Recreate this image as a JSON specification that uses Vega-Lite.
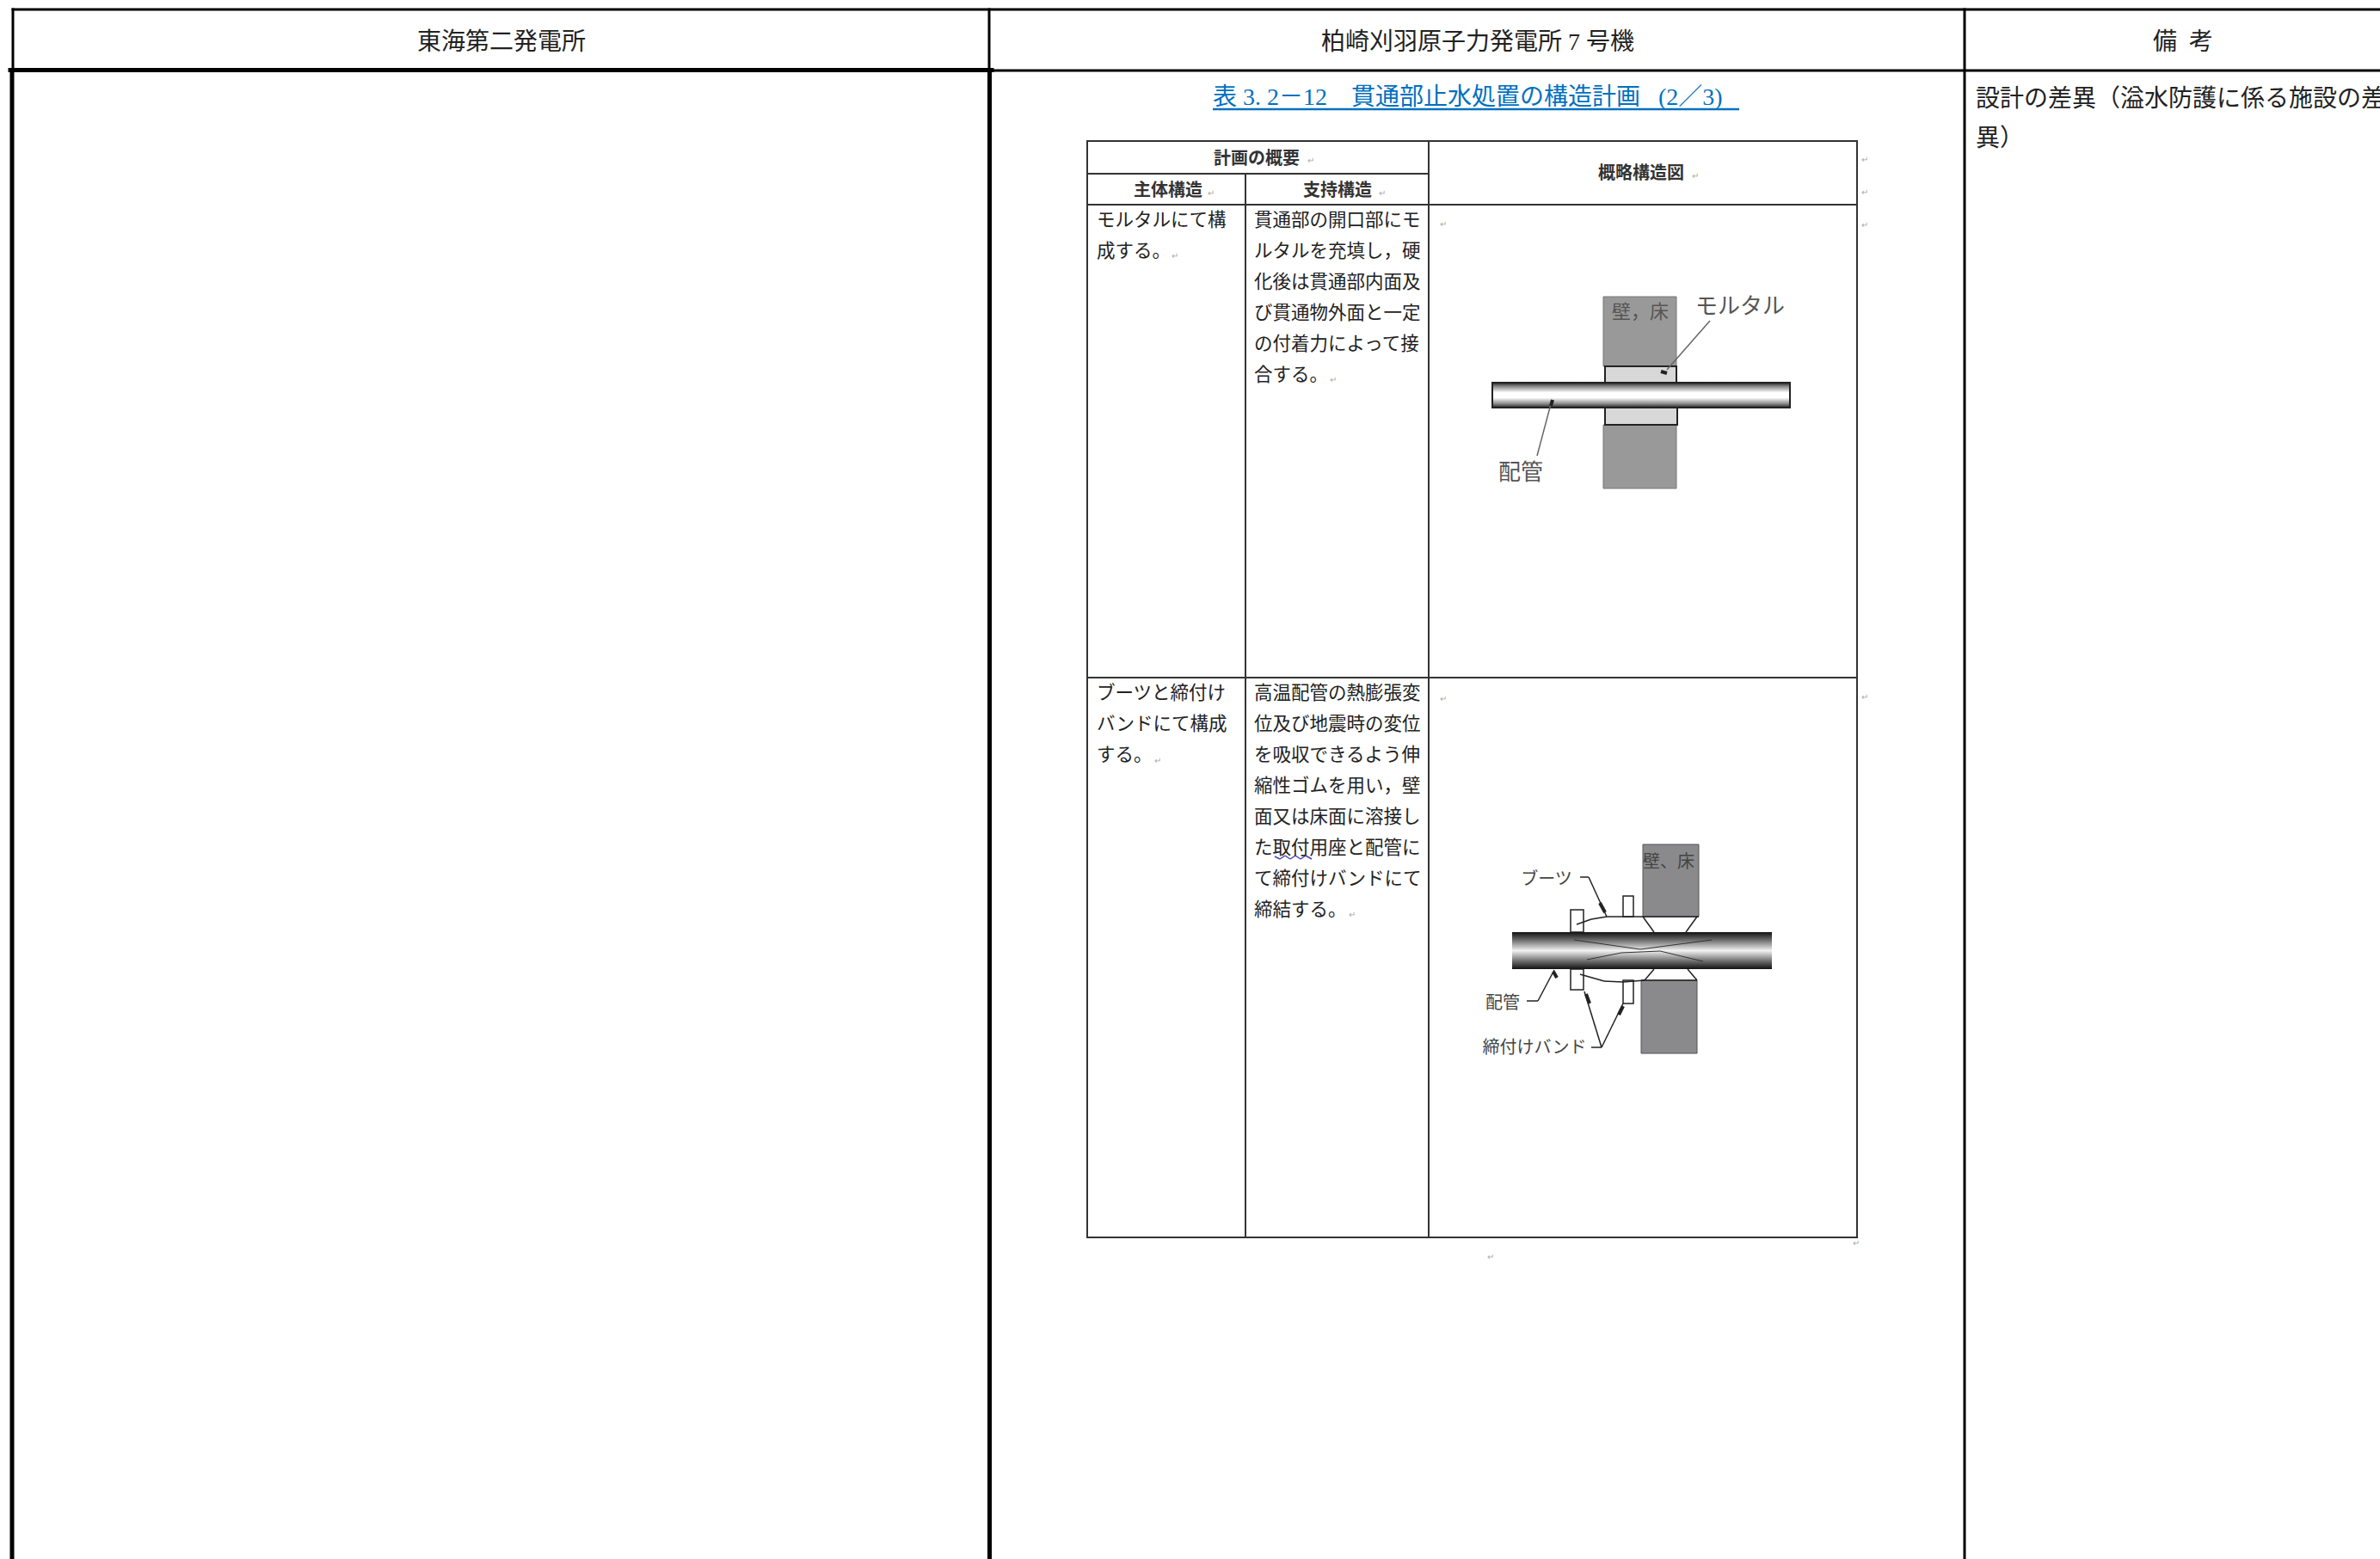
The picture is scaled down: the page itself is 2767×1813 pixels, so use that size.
{
"$schema":"https://vega.github.io/schema/vega-lite/v6.json",
"autosize":{"type":"none"},
"width":2767,"height":1813,"padding":0,"background":"#ffffff",
"config":{"view":{"stroke":null},"text":{"font":"Liberation Serif, Noto Sans CJK JP"}},
"datasets":{
"frame3":[{"x":15,"y":11,"x2":2767,"y2":11},{"x":15,"y":11,"x2":15,"y2":81},{"x":1150,"y":11,"x2":1150,"y2":81},{"x":2284,"y":11,"x2":2284,"y2":1813},{"x":1150,"y":82,"x2":2767,"y2":82}],
"frame5":[{"x":12,"y":81.5,"x2":1153,"y2":81.5},{"x":14,"y":81.5,"x2":14,"y2":1813},{"x":1150.5,"y":81.5,"x2":1150.5,"y2":1813}],
"inner":[{"x":1264,"y":164,"x2":2159,"y2":164},{"x":1264,"y":202,"x2":1660,"y2":202},{"x":1264,"y":238,"x2":2159,"y2":238},{"x":1264,"y":788,"x2":2159,"y2":788},{"x":1264,"y":1439,"x2":2159,"y2":1439},{"x":1264,"y":164,"x2":1264,"y2":1439},{"x":1448,"y":202,"x2":1448,"y2":1439},{"x":1661,"y":164,"x2":1661,"y2":1439},{"x":2159,"y":164,"x2":2159,"y2":1439}],
"underline":[{"x":1410,"y":127,"x2":2022,"y2":127}],
"wave":[{"x":1482,"y":996,"x2":1488,"y2":999},{"x":1488,"y":999,"x2":1494,"y2":995},{"x":1494,"y":995,"x2":1500,"y2":999},{"x":1500,"y":999,"x2":1506,"y2":995},{"x":1506,"y":995,"x2":1512,"y2":999},{"x":1512,"y":999,"x2":1518,"y2":995},{"x":1518,"y":995,"x2":1525,"y2":999}],
"wallA":[{"x":1864,"x2":1949,"y":345,"y2":426},{"x":1864,"x2":1949,"y":494,"y2":568}],
"mortar":[{"x":1866,"x2":1949,"y":426,"y2":445},{"x":1866,"x2":1950,"y":474,"y2":494}],
"pipeA":[{"x":1735,"x2":2081,"y":445,"y2":474}],
"wallB":[{"x":1910,"x2":1975,"y":982,"y2":1066},{"x":1908,"x2":1973,"y":1140,"y2":1225}],
"pipeB":[{"x":1758,"x2":2060,"y":1084,"y2":1127}],
"bands":[{"x":1826,"x2":1841,"y":1058,"y2":1084},{"x":1826,"x2":1841,"y":1127,"y2":1151},{"x":1887,"x2":1899,"y":1042,"y2":1066},{"x":1887,"x2":1899,"y":1140,"y2":1167}],
"leaderGray":[{"x":1988,"y":373,"x2":1938,"y2":430},{"x":1787,"y":530,"x2":1803,"y2":470}],
"leaderDark":[{"x":1868,"y":1066,"x2":1975,"y2":1066},{"x":1908,"y":1140,"x2":1973,"y2":1140},{"x":1833,"y":1075,"x2":1850,"y2":1069},{"x":1850,"y":1069,"x2":1868,"y2":1066},{"x":1910,"y":1066,"x2":1923,"y2":1084},{"x":1973,"y":1066,"x2":1960,"y2":1084},{"x":1923,"y":1127,"x2":1912,"y2":1140},{"x":1962,"y":1127,"x2":1973,"y2":1140},{"x":1837,"y":1133,"x2":1865,"y2":1141},{"x":1865,"y":1141,"x2":1887,"y2":1142},{"x":1887,"y":1142,"x2":1912,"y2":1140},{"x":1837,"y":1020,"x2":1847,"y2":1020},{"x":1847,"y":1020,"x2":1868,"y2":1066},{"x":1775,"y":1164,"x2":1788,"y2":1164},{"x":1788,"y":1164,"x2":1807,"y2":1128},{"x":1850,"y":1218,"x2":1862,"y2":1218},{"x":1862,"y":1218,"x2":1842,"y2":1153},{"x":1862,"y":1218,"x2":1887,"y2":1167}],
"pipeLines":[{"x":1830,"y":1093,"x2":1907,"y2":1104},{"x":1907,"y":1104,"x2":1990,"y2":1093},{"x":1845,"y":1116,"x2":1885,"y2":1108},{"x":1885,"y":1108,"x2":1930,"y2":1106},{"x":1930,"y":1106,"x2":1980,"y2":1118}],
"heads":[{"x":1931,"y":432,"x2":1938,"y2":434},{"x":1803,"y":472,"x2":1805,"y2":465},{"x":1860,"y":1050,"x2":1866,"y2":1061},{"x":1810,"y":1137,"x2":1806,"y2":1130},{"x":1844,"y":1156,"x2":1848,"y2":1167},{"x":1887,"y":1170,"x2":1882,"y2":1180}],
"headerC":[{"x":583,"y":50,"t":"東海第二発電所"},{"x":1718,"y":50,"t":"柏崎刈羽原子力発電所 7 号機"},{"x":2538,"y":50,"t":"備\u00a0\u00a0考"}],
"remarks":[{"x":2297,"y":116,"t":"設計の差異（溢水防護に係る施設の差"},{"x":2297,"y":162,"t":"異）"}],
"title":[{"x":1410,"y":114,"t":"表 3. 2－12　貫通部止水処置の構造計画\u00a0\u00a0\u00a0(2／3)"}],
"cellHead":[{"x":1461,"y":185,"t":"計画の概要"},{"x":1358,"y":222,"t":"主体構造"},{"x":1555,"y":222,"t":"支持構造"},{"x":1908,"y":202,"t":"概略構造図"}],
"cells":[{"x":1275,"y":257,"t":"モルタルにて構"},{"x":1275,"y":293,"t":"成する。"},{"x":1458,"y":257,"t":"貫通部の開口部にモ"},{"x":1458,"y":293,"t":"ルタルを充填し，硬"},{"x":1458,"y":329,"t":"化後は貫通部内面及"},{"x":1458,"y":365,"t":"び貫通物外面と一定"},{"x":1458,"y":401,"t":"の付着力によって接"},{"x":1458,"y":437,"t":"合する。"},{"x":1275,"y":807,"t":"ブーツと締付け"},{"x":1275,"y":843,"t":"バンドにて構成"},{"x":1275,"y":879,"t":"する。"},{"x":1458,"y":807,"t":"高温配管の熱膨張変"},{"x":1458,"y":843,"t":"位及び地震時の変位"},{"x":1458,"y":879,"t":"を吸収できるよう伸"},{"x":1458,"y":915,"t":"縮性ゴムを用い，壁"},{"x":1458,"y":951,"t":"面又は床面に溶接し"},{"x":1458,"y":987,"t":"た取付用座と配管に"},{"x":1458,"y":1023,"t":"て締付けバンドにて"},{"x":1458,"y":1059,"t":"締結する。"}],
"marks":[{"x":1524,"y":187,"t":"↵"},{"x":1408,"y":225,"t":"↵"},{"x":1607,"y":225,"t":"↵"},{"x":1971,"y":205,"t":"↵"},{"x":1366,"y":298,"t":"↵"},{"x":1550,"y":442,"t":"↵"},{"x":1678,"y":261,"t":"↵"},{"x":1678,"y":813,"t":"↵"},{"x":1346,"y":885,"t":"↵"},{"x":1572,"y":1064,"t":"↵"},{"x":1733,"y":1462,"t":"↵"},{"x":2168,"y":186,"t":"↵"},{"x":2168,"y":224,"t":"↵"},{"x":2168,"y":262,"t":"↵"},{"x":2168,"y":811,"t":"↵"},{"x":2158,"y":1446,"t":"↵"}],
"diagWall":[{"x":1907,"y":363,"t":"壁，床"}],
"diagGray":[{"x":2023,"y":357,"t":"モルタル"},{"x":1768,"y":550,"t":"配管"}],
"diagB":[{"x":1940,"y":1003,"t":"壁、床"},{"x":1798,"y":1023,"t":"ブーツ"},{"x":1747,"y":1167,"t":"配管"},{"x":1784,"y":1219,"t":"締付けバンド"}]
},
"encoding":{
"x":{"field":"x","type":"quantitative","scale":{"domain":[0,2767],"nice":false,"zero":false},"axis":null},
"y":{"field":"y","type":"quantitative","scale":{"domain":[0,1813],"reverse":true,"nice":false,"zero":false},"axis":null}
},
"layer":[
{"data":{"name":"wallA"},"mark":{"type":"rect","fill":"#999999","stroke":"#777777","strokeWidth":1},"encoding":{"x2":{"field":"x2"},"y2":{"field":"y2"}}},
{"data":{"name":"mortar"},"mark":{"type":"rect","fill":"#d8d8d8","stroke":"#222222","strokeWidth":2},"encoding":{"x2":{"field":"x2"},"y2":{"field":"y2"}}},
{"data":{"name":"pipeA"},"mark":{"type":"rect","stroke":"#222222","strokeWidth":2,"fill":{"gradient":"linear","x1":0,"y1":0,"x2":0,"y2":1,"stops":[{"offset":0,"color":"#222222"},{"offset":0.15,"color":"#888888"},{"offset":0.4,"color":"#ffffff"},{"offset":0.6,"color":"#ffffff"},{"offset":0.85,"color":"#888888"},{"offset":1,"color":"#222222"}]}},"encoding":{"x2":{"field":"x2"},"y2":{"field":"y2"}}},
{"data":{"name":"wallB"},"mark":{"type":"rect","fill":"#8a8a8c","stroke":"#555555","strokeWidth":1},"encoding":{"x2":{"field":"x2"},"y2":{"field":"y2"}}},
{"data":{"name":"bands"},"mark":{"type":"rect","fill":"#ffffff","stroke":"#222222","strokeWidth":1.5},"encoding":{"x2":{"field":"x2"},"y2":{"field":"y2"}}},
{"data":{"name":"pipeB"},"mark":{"type":"rect","fill":{"gradient":"linear","x1":0,"y1":0,"x2":0,"y2":1,"stops":[{"offset":0,"color":"#111111"},{"offset":0.2,"color":"#666666"},{"offset":0.5,"color":"#f2f2f2"},{"offset":0.8,"color":"#666666"},{"offset":1,"color":"#111111"}]}},"encoding":{"x2":{"field":"x2"},"y2":{"field":"y2"}}},
{"data":{"name":"pipeLines"},"mark":{"type":"rule","stroke":"#333333","strokeWidth":1},"encoding":{"x2":{"field":"x2"},"y2":{"field":"y2"}}},
{"data":{"name":"leaderGray"},"mark":{"type":"rule","stroke":"#666666","strokeWidth":1.5},"encoding":{"x2":{"field":"x2"},"y2":{"field":"y2"}}},
{"data":{"name":"leaderDark"},"mark":{"type":"rule","stroke":"#222222","strokeWidth":1.5},"encoding":{"x2":{"field":"x2"},"y2":{"field":"y2"}}},
{"data":{"name":"heads"},"mark":{"type":"rule","stroke":"#222222","strokeWidth":4},"encoding":{"x2":{"field":"x2"},"y2":{"field":"y2"}}},
{"data":{"name":"inner"},"mark":{"type":"rule","stroke":"#333333","strokeWidth":2,"strokeCap":"square"},"encoding":{"x2":{"field":"x2"},"y2":{"field":"y2"}}},
{"data":{"name":"underline"},"mark":{"type":"rule","stroke":"#0070c0","strokeWidth":2.5},"encoding":{"x2":{"field":"x2"},"y2":{"field":"y2"}}},
{"data":{"name":"wave"},"mark":{"type":"rule","stroke":"#4444bb","strokeWidth":1.5},"encoding":{"x2":{"field":"x2"},"y2":{"field":"y2"}}},
{"data":{"name":"frame3"},"mark":{"type":"rule","stroke":"#000000","strokeWidth":3,"strokeCap":"square"},"encoding":{"x2":{"field":"x2"},"y2":{"field":"y2"}}},
{"data":{"name":"frame5"},"mark":{"type":"rule","stroke":"#000000","strokeWidth":5,"strokeCap":"square"},"encoding":{"x2":{"field":"x2"},"y2":{"field":"y2"}}},
{"data":{"name":"headerC"},"mark":{"type":"text","fontSize":28,"align":"center","baseline":"middle","color":"#222222"},"encoding":{"text":{"field":"t"}}},
{"data":{"name":"remarks"},"mark":{"type":"text","fontSize":28,"align":"left","baseline":"middle","color":"#222222"},"encoding":{"text":{"field":"t"}}},
{"data":{"name":"title"},"mark":{"type":"text","fontSize":28,"align":"left","baseline":"middle","color":"#0070c0"},"encoding":{"text":{"field":"t"}}},
{"data":{"name":"cellHead"},"mark":{"type":"text","fontSize":20,"fontWeight":"bold","align":"center","baseline":"middle","color":"#333333"},"encoding":{"text":{"field":"t"}}},
{"data":{"name":"cells"},"mark":{"type":"text","fontSize":21.5,"align":"left","baseline":"middle","color":"#222222"},"encoding":{"text":{"field":"t"}}},
{"data":{"name":"marks"},"mark":{"type":"text","fontSize":10,"align":"center","baseline":"middle","color":"#aaaaaa"},"encoding":{"text":{"field":"t"}}},
{"data":{"name":"diagWall"},"mark":{"type":"text","fontSize":22,"align":"center","baseline":"middle","color":"#555555"},"encoding":{"text":{"field":"t"}}},
{"data":{"name":"diagGray"},"mark":{"type":"text","fontSize":26,"align":"center","baseline":"middle","color":"#555555"},"encoding":{"text":{"field":"t"}}},
{"data":{"name":"diagB"},"mark":{"type":"text","fontSize":20,"align":"center","baseline":"middle","color":"#444444"},"encoding":{"text":{"field":"t"}}}
]
}
